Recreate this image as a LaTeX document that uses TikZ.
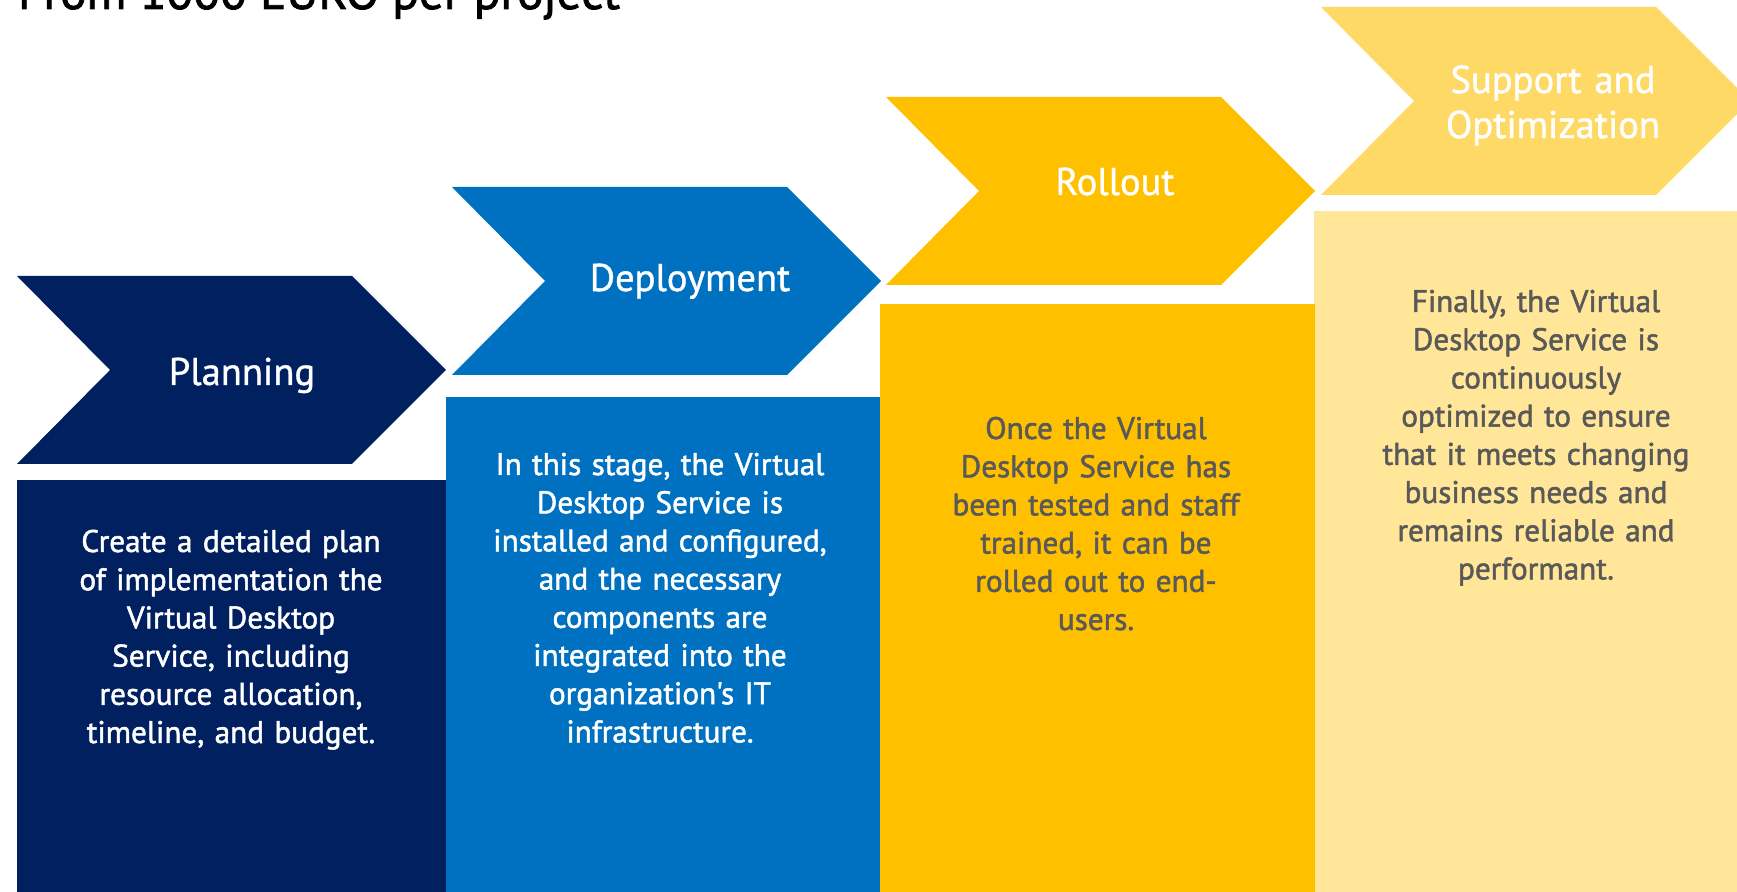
\documentclass[tikz,border=0pt]{standalone}
\usepackage{fontspec}
\setmainfont{PT Sans}[FakeBold=1]
\newfontfamily\medfont{PT Sans}[FakeBold=1.6]
\definecolor{navy}{HTML}{002060}
\definecolor{deepblue}{HTML}{0070C0}
\definecolor{gold}{HTML}{FFC000}
\definecolor{sand}{HTML}{FFD966}
\definecolor{pale}{HTML}{FFE699}
\definecolor{darkgray}{HTML}{595959}
\begin{document}
\begin{tikzpicture}[x=0.5pt,y=-0.5pt,
stage/.style = {text=white, inner sep=0pt, anchor=base, align=center,
  font=\fontsize{19.3}{22.5}\selectfont},
info/.style = {inner sep=0pt, anchor=base, text width=200pt, align=center,
  font=\medfont\fontsize{15.6}{19.1}\selectfont},
every node/.append style = {outer sep=0pt}]
\clip (0,0) rectangle (1737,892);
\node[anchor=base west, inner sep=0pt, font=\medfont\fontsize{24.6}{24.6}\selectfont] (title) at (18,9) {From 1000 EURO per project};
% chevrons
\fill[navy]     (17,276)  -- ++(335,0) -- ++(94,94) -- ++(-94,94) -- ++(-335,0) -- ++(93,-94) -- cycle;
\fill[deepblue] (452,187) -- ++(335,0) -- ++(94,94) -- ++(-94,94) -- ++(-335,0) -- ++(93,-94) -- cycle;
\fill[gold]     (886,97)  -- ++(335,0) -- ++(94,94) -- ++(-94,94) -- ++(-335,0) -- ++(93,-94) -- cycle;
\fill[sand]     (1321,7)  -- ++(335,0) -- ++(94,94) -- ++(-94,94) -- ++(-335,0) -- ++(93,-94) -- cycle;
% boxes
\fill[navy]     (17,480)   rectangle (446,892);
\fill[deepblue] (446,397)  rectangle (880,892);
\fill[pale]     (1314,211) rectangle (1740,892);
\fill[gold]     (880,304)  rectangle (1315,892);
% stage names
\node[stage] (planning) at (242,385) {Planning};
\node[stage] (deployment) at (690,291) {Deployment};
\node[stage] (rollout) at (1115,195) {Rollout};
\node[stage, text width=200pt] (support) at (1553,93) {Support and\\Optimization};
% descriptions
\node[info, text=white] (plantext) at (231,552) {Create a detailed plan\\of implementation the\\Virtual Desktop\\Service, including\\resource allocation,\\timeline, and budget.};
\node[info, text=white] (deploytext) at (660,475) {In this stage, the Virtual\\Desktop Service is\\installed and configured,\\and the necessary\\components are\\integrated into the\\organization\char"0027 s IT\\infrastructure.};
\node[info, text=darkgray] (rollouttext) at (1096,439) {Once the Virtual\\Desktop Service has\\been tested and staff\\trained, it can be\\rolled out to end-\\users.};
\node[info, text=darkgray] (supporttext) at (1536,312) {Finally, the Virtual\\Desktop Service is\\continuously\\optimized to ensure\\that it meets changing\\business needs and\\remains reliable and\\performant.};
\end{tikzpicture}
\end{document}
